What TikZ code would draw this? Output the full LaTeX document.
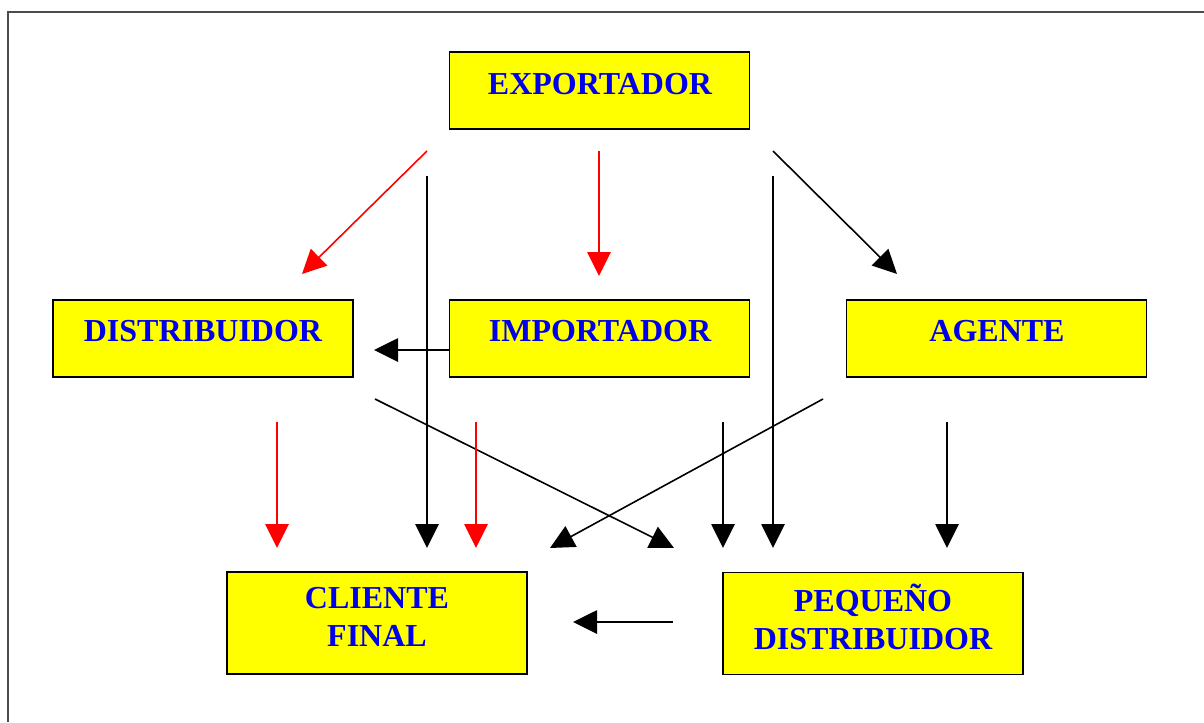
\documentclass[tikz,border=0pt]{standalone}
\usepackage{fontspec}
\setmainfont{Liberation Serif}
\usetikzlibrary{arrows.meta}
\definecolor{boxyellow}{RGB}{255,255,0}
\definecolor{txtblue}{RGB}{0,0,235}
\begin{document}
\begin{tikzpicture}[x=0.75pt,y=-0.75pt,
  box/.style={draw=black, line width=1.2pt, fill=boxyellow, minimum width=225pt, minimum height=57.75pt, inner sep=0pt},
  tallbox/.style={box, minimum height=76.5pt},
  lbl/.style={text=txtblue, font=\fontsize{24}{28.5}\selectfont\bfseries, align=center, inner sep=0pt},
  arr/.style={line width=1.2pt, -{Triangle[length=18pt,width=17.5pt]}},
  redarr/.style={arr, red},
  frameline/.style={line width=2pt, black!70}]
\useasboundingbox (0,0) rectangle (1204,722);
\coordinate (f1) at (1204,12);
\coordinate (f2) at (8,12);
\coordinate (f3) at (8,722);
\draw[frameline] (f1) -- (f2) -- (f3);

% boxes
\node[box] (exp) at (599.5,90.5) {};
\node[box] (dis) at (203,338.5) {};
\node[box] (imp) at (599.5,338.5) {};
\node[box] (age) at (996.5,338.5) {};
\node[tallbox] (cli) at (377,623) {};
\node[tallbox] (peq) at (873,623.5) {};

% labels
\node[lbl] (expt) at (600,84) {EXPORTADOR};
\node[lbl] (dist) at (203,331) {DISTRIBUIDOR};
\node[lbl] (impt) at (600,331) {IMPORTADOR};
\node[lbl] (aget) at (997,331) {AGENTE};
\node[lbl] (clit) at (377,617) {CLIENTE\\FINAL};
\node[lbl] (peqt) at (873,617) {PEQUEÑO\\DISTRIBUIDOR};

% arrow end points
\coordinate (a1s) at (427,151);  \coordinate (a1e) at (302,274);
\coordinate (a2s) at (427,176);  \coordinate (a2e) at (427,548);
\coordinate (a3s) at (599,151);  \coordinate (a3e) at (599,276);
\coordinate (a4s) at (773,176);  \coordinate (a4e) at (773,548);
\coordinate (a5s) at (773,151);  \coordinate (a5e) at (897,274);
\coordinate (a6s) at (449,350);  \coordinate (a6e) at (374,350);
\coordinate (a7s) at (375,399);  \coordinate (a7e) at (674,548);
\coordinate (a8s) at (823,399);  \coordinate (a8e) at (550,548);
\coordinate (a9s) at (277,422);  \coordinate (a9e) at (277,548);
\coordinate (a10s) at (476,422); \coordinate (a10e) at (476,548);
\coordinate (a11s) at (723,422); \coordinate (a11e) at (723,548);
\coordinate (a12s) at (947,422); \coordinate (a12e) at (947,548);
\coordinate (a13s) at (673,622); \coordinate (a13e) at (573,622);

\draw[redarr] (a1s) -- (a1e);
\draw[arr] (a2s) -- (a2e);
\draw[redarr] (a3s) -- (a3e);
\draw[arr] (a4s) -- (a4e);
\draw[arr] (a5s) -- (a5e);
\draw[arr] (a6s) -- (a6e);
\draw[arr] (a7s) -- (a7e);
\draw[arr] (a8s) -- (a8e);
\draw[redarr] (a9s) -- (a9e);
\draw[redarr] (a10s) -- (a10e);
\draw[arr] (a11s) -- (a11e);
\draw[arr] (a12s) -- (a12e);
\draw[arr] (a13s) -- (a13e);
\end{tikzpicture}
\end{document}
